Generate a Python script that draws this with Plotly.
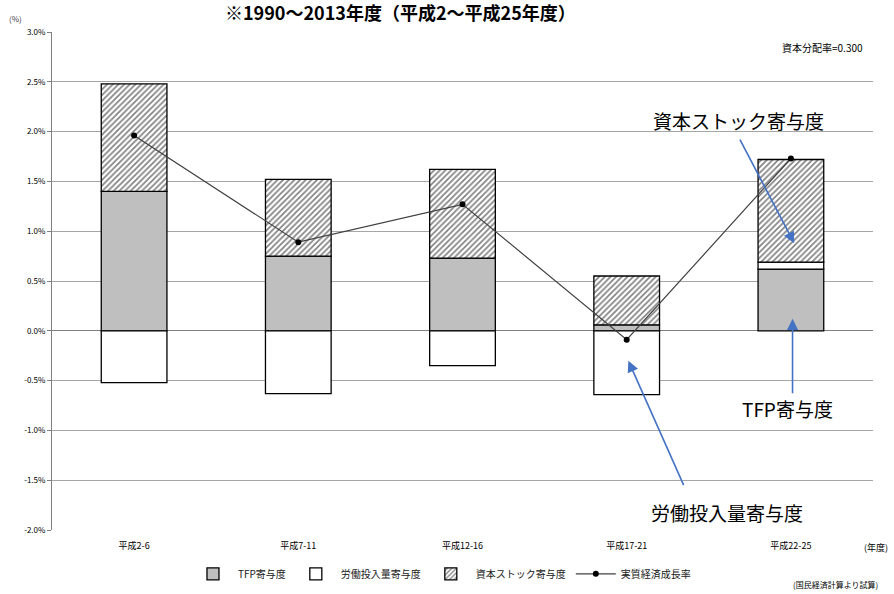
import plotly.graph_objects as go

# Growth accounting by period (percentage points)
periods = ["平成2-6", "平成7-11", "平成12-16", "平成17-21", "平成22-25"]
tfp = [1.40, 0.75, 0.73, 0.06, 0.62]
labor = [-0.52, -0.63, -0.35, -0.64, 0.07]
capital = [1.08, 0.77, 0.89, 0.49, 1.03]
gdp_growth = [1.96, 0.89, 1.27, -0.09, 1.73]

y_ticks = [3.0, 2.5, 2.0, 1.5, 1.0, 0.5, 0.0, -0.5, -1.0, -1.5, -2.0]

JP = "Noto Sans CJK JP"
BLUE = "#4472C4"

fig = go.Figure()

bar_line = dict(color="#000000", width=1.3)
fig.add_trace(go.Bar(x=periods, y=tfp, name="TFP寄与度", width=0.4,
                     marker=dict(color="#bfbfbf", line=bar_line)))
fig.add_trace(go.Bar(x=periods, y=labor, name="労働投入量寄与度", width=0.4,
                     marker=dict(color="#ffffff", line=bar_line)))
fig.add_trace(go.Bar(x=periods, y=capital, name="資本ストック寄与度", width=0.4,
                     marker=dict(color="#ffffff", line=bar_line,
                                 pattern=dict(shape="/", size=4, solidity=0.4,
                                              fgcolor="#000000", bgcolor="#ffffff",
                                              fillmode="overlay"))))
fig.add_trace(go.Scatter(x=periods, y=gdp_growth, name="実質経済成長率",
                         mode="lines+markers",
                         line=dict(color="#404040", width=1.2),
                         marker=dict(color="#000000", size=6, symbol="circle")))

fig.update_layout(
    width=894, height=594,
    margin=dict(l=52, r=21, t=32, b=64, autoexpand=False),
    paper_bgcolor="#ffffff", plot_bgcolor="#ffffff",
    barmode="relative", bargap=0.6,
    font=dict(family=JP, color="#000000"),
    showlegend=True,
    legend=dict(orientation="h", x=0.475, xanchor="center", y=-0.088, yanchor="middle",
                font=dict(size=10, family=JP, color="#202020"), itemwidth=40,
                traceorder="normal", bgcolor="rgba(0,0,0,0)"),
)

fig.update_xaxes(type="category", showgrid=False, showline=False,
                 ticks="outside", ticklen=7, tickcolor="rgba(0,0,0,0)",
                 tickfont=dict(size=9, family=JP, color="#000000"),
                 range=[-0.5, 4.5])
fig.update_yaxes(range=[-2.0, 3.0], tickvals=y_ticks,
                 ticktext=[f"{v:.1f}%" for v in y_ticks],
                 tickfont=dict(size=8, family=JP, color="#000000"),
                 showgrid=True, gridcolor="#a6a6a6", gridwidth=1,
                 zeroline=True, zerolinecolor="#808080", zerolinewidth=1,
                 showline=True, linecolor="#808080", linewidth=1,
                 ticks="outside", ticklen=4, tickcolor="#808080")

annotations = [
    dict(text="<b>※1990～2013年度（平成2～平成25年度）</b>", xref="paper", yref="paper",
         x=0.424, y=1.041, xanchor="center", yanchor="middle", showarrow=False,
         font=dict(size=18, family=JP, color="#000000")),
    dict(text="(%)", xref="paper", yref="paper", x=-0.045, y=1.028,
         xanchor="center", yanchor="middle", showarrow=False,
         font=dict(size=8, family=JP, color="#404040")),
    dict(text="資本分配率=0.300", xref="paper", yref="paper", x=0.99, y=0.968,
         xanchor="right", yanchor="middle", showarrow=False,
         font=dict(size=10, family=JP, color="#000000")),
    dict(text="(年度)", xref="paper", yref="paper", x=0.987, y=-0.036,
         xanchor="left", yanchor="middle", showarrow=False,
         font=dict(size=9, family=JP, color="#000000")),
    dict(text="(国民経済計算より試算)", xref="paper", yref="paper", x=0.954, y=-0.110,
         xanchor="center", yanchor="middle", showarrow=False,
         font=dict(size=8, family=JP, color="#000000")),
    # callout labels
    dict(text="資本ストック寄与度", xref="x", yref="y", x=3.68, y=2.11,
         xanchor="center", yanchor="middle", showarrow=False,
         font=dict(size=19, family=JP, color="#000000")),
    dict(text="TFP寄与度", xref="x", yref="y", x=3.98, y=-0.78,
         xanchor="center", yanchor="middle", showarrow=False,
         font=dict(size=19, family=JP, color="#000000")),
    dict(text="労働投入量寄与度", xref="x", yref="y", x=3.61, y=-1.82,
         xanchor="center", yanchor="middle", showarrow=False,
         font=dict(size=19, family=JP, color="#000000")),
    # callout arrows
    dict(text="", xref="x", yref="y", x=4.02, y=0.88, ax=-55, ay=-105,
         showarrow=True, arrowhead=2, arrowsize=1.4, arrowwidth=1.6, arrowcolor=BLUE),
    dict(text="", xref="x", yref="y", x=4.01, y=0.12, ax=0, ay=76,
         showarrow=True, arrowhead=2, arrowsize=1.4, arrowwidth=1.6, arrowcolor=BLUE),
    dict(text="", xref="x", yref="y", x=3.01, y=-0.30, ax=56, ay=126,
         showarrow=True, arrowhead=2, arrowsize=1.4, arrowwidth=1.6, arrowcolor=BLUE),
]
fig.update_layout(annotations=annotations)

fig.write_html("out.html")
